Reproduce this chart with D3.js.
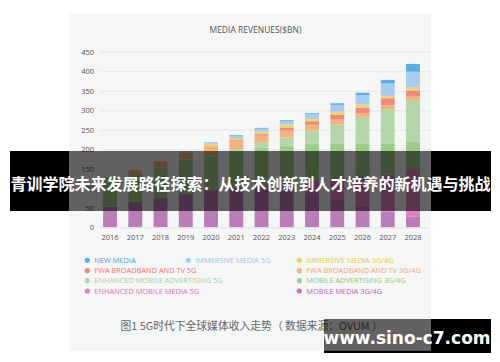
<!DOCTYPE html>
<html>
<head>
<meta charset="utf-8">
<script src="https://cdn.jsdelivr.net/npm/d3@7"></script>
<style>
  body { margin: 0; background: #fff; }
  text { font-family: "Open Sans", "Noto Sans", sans-serif; }
</style>
</head>
<body>
<div id="chart"></div>
<script>
// years on the x axis
var years = ["2016", "2017", "2018", "2019", "2020", "2021", "2022", "2023", "2024", "2025", "2026", "2027", "2028"];

// series, bottom of the stack first ($BN)
var mobileMedia      = [53, 66, 76, 86, 96, 100, 100, 95, 85, 70, 55, 40, 27];
var enhMobileMedia5G = [0, 0, 0, 0, 0, 2, 8, 20, 35, 50, 70, 95, 122];
var mobileAdv        = [75, 68, 78, 88, 86, 93, 95, 95, 95, 95, 90, 80, 70];
var enhMobileAdv5G   = [0, 0, 0, 0, 3, 5, 14, 20, 33, 49, 68, 88, 107];
var fwa3G4G          = [0, 13, 15, 17, 22, 22, 18, 18, 15, 12, 10, 10, 9];
var fwa5G            = [0, 0, 0, 0, 2, 3, 4, 8, 9, 12, 14, 18, 16];
var immersive3G4G    = [0, 0, 0, 1, 5, 4, 6, 8, 6, 8, 8, 6, 7];
var immersive5G      = [0, 0, 0, 1, 3, 5, 8, 9, 13, 18, 24, 32, 41];
var newMedia         = [0, 0, 0, 1, 1, 2, 2, 2, 2, 4, 6, 9, 20];

var yTicks = [0, 50, 100, 150, 200, 250, 300, 350, 400, 450];

var seriesNames = ["MOBILE MEDIA 3G/4G", "ENHANCED MOBILE MEDIA 5G", "MOBILE ADVERTISING 3G/4G",
  "ENHANCED MOBILE ADVERTISING 5G", "FWA BROADBAND AND TV 3G/4G", "FWA BROADBAND AND TV 5G",
  "IMMERSIVE  MEDIA 3G/4G", "IMMERSIVE  MEDIA 5G", "NEW MEDIA"];
var seriesValues = [mobileMedia, enhMobileMedia5G, mobileAdv, enhMobileAdv5G, fwa3G4G, fwa5G,
  immersive3G4G, immersive5G, newMedia];
var seriesColors = ["#bb7cba", "#e27fbd", "#9dce88", "#b4d6aa", "#f3b37c", "#f08a7f",
  "#ebd66a", "#a6cdf0", "#5aaee4"];
var textColors = ["#b366b3", "#e070b2", "#8fc878", "#a9d19e", "#f2a869", "#ef7467",
  "#e6cc3a", "#9fc6ec", "#4a9fe0"];

// legend rows as drawn: [series index, column]
var legendRows = [
  [[8, 0], [7, 1], [6, 2]],
  [[5, 0], [4, 2]],
  [[3, 0], [2, 2]],
  [[1, 0], [0, 2]]
];

var width = 500, height = 362;
var panel = {x: 69, y: 13, w: 362, h: 337.6};

var svg = d3.select("#chart").append("svg")
  .attr("width", width)
  .attr("height", height);

svg.append("rect")
  .attr("x", panel.x).attr("y", panel.y)
  .attr("width", panel.w).attr("height", panel.h)
  .attr("fill", "#f5f6f6");

var table = years.map(function(y, i) {
  var row = {year: y};
  seriesNames.forEach(function(n, j) { row[n] = seriesValues[j][i]; });
  return row;
});

var x = d3.scaleBand()
  .domain(years)
  .range([97.4, 425.65])
  .paddingInner(0.45)
  .paddingOuter(0.225);

var y = d3.scaleLinear()
  .domain([0, 450])
  .range([227.3, 51.8]);

var color = d3.scaleOrdinal().domain(seriesNames).range(seriesColors);

// grid + y labels
var yAxis = svg.append("g")
  .attr("transform", "translate(100,0)")
  .call(d3.axisLeft(y).tickValues(yTicks).tickSize(-330).tickPadding(6));
yAxis.select(".domain").remove();
yAxis.selectAll("line").attr("stroke", "#e6e8e8");
yAxis.selectAll("text").attr("fill", "#555").style("font-size", "7.5px");

var stack = d3.stack().keys(seriesNames);
var layers = stack(table);

svg.append("g").selectAll("g")
  .data(layers)
  .enter().append("g")
  .attr("fill", function(d) { return color(d.key); })
  .selectAll("rect")
  .data(function(d) { return d; })
  .enter().append("rect")
  .attr("x", function(d) { return x(d.data.year); })
  .attr("y", function(d) { return y(d[1]); })
  .attr("width", x.bandwidth())
  .attr("height", function(d) { return y(d[0]) - y(d[1]); });

// x labels
var xAxis = svg.append("g")
  .attr("transform", "translate(0,227.3)")
  .call(d3.axisBottom(x).tickSize(0).tickPadding(7));
xAxis.select(".domain").attr("stroke", "#e6e8e8");
xAxis.selectAll("text").attr("fill", "#555").style("font-size", "7.5px");

svg.append("text")
  .attr("x", 255.5).attr("y", 33)
  .attr("text-anchor", "middle")
  .attr("fill", "#555")
  .style("font-size", "8.5px")
  .text("MEDIA REVENUES($BN)");

// legend
var colX = [87.3, 188.3, 299.3];
var rowY = [260.3, 270.7, 280.7, 291];
legendRows.forEach(function(row, r) {
  row.forEach(function(item) {
    var g = svg.append("g").attr("transform", "translate(" + colX[item[1]] + "," + rowY[r] + ")");
    g.append("circle").attr("r", 2.6).attr("fill", seriesColors[item[0]]);
    g.append("text")
      .attr("x", 7).attr("dy", "0.35em")
      .attr("fill", textColors[item[0]])
      .style("font-size", "7.4px")
      .text(seriesNames[item[0]]);
  });
});

svg.append("text")
  .attr("x", 120.5).attr("y", 330)
  .attr("fill", "#666")
  .style("font-family", "'Noto Sans CJK SC', sans-serif")
  .style("font-size", "10.8px")
  .text("图1  5G时代下全球媒体收入走势（ 数据来源：OVUM ）");

// overlays: translucent over the panel, solid outside it
function overlay(x0, y0, w, h) {
  var ix0 = Math.max(x0, panel.x), iy0 = Math.max(y0, panel.y);
  var ix1 = Math.min(x0 + w, panel.x + panel.w), iy1 = Math.min(y0 + h, panel.y + panel.h);
  svg.append("rect")
    .attr("x", ix0).attr("y", iy0)
    .attr("width", ix1 - ix0).attr("height", iy1 - iy0)
    .attr("fill", "#000").attr("fill-opacity", 0.6);
  var p = d3.path();
  p.rect(x0, y0, w, h);
  p.rect(ix0, iy0, ix1 - ix0, iy1 - iy0);
  svg.append("path")
    .attr("d", p.toString())
    .attr("fill", "#000")
    .attr("fill-rule", "evenodd");
}

overlay(10, 151, 481, 60);
svg.append("text")
  .attr("x", 250.5).attr("y", 189.5)
  .attr("text-anchor", "middle")
  .attr("fill", "#fff")
  .style("font-family", "'Noto Sans CJK SC', sans-serif")
  .style("font-weight", "700")
  .style("font-size", "16px")
  .text("青训学院未来发展路径探索：从技术创新到人才培养的新机遇与挑战");

overlay(324, 319, 167, 34);
svg.append("text")
  .attr("x", 407).attr("y", 343.5)
  .attr("text-anchor", "middle")
  .attr("fill", "#fff")
  .style("font-family", "'DejaVu Sans', sans-serif")
  .style("font-weight", "700")
  .style("font-size", "17px")
  .text("www.sino-c7.com");
</script>
</body>
</html>
